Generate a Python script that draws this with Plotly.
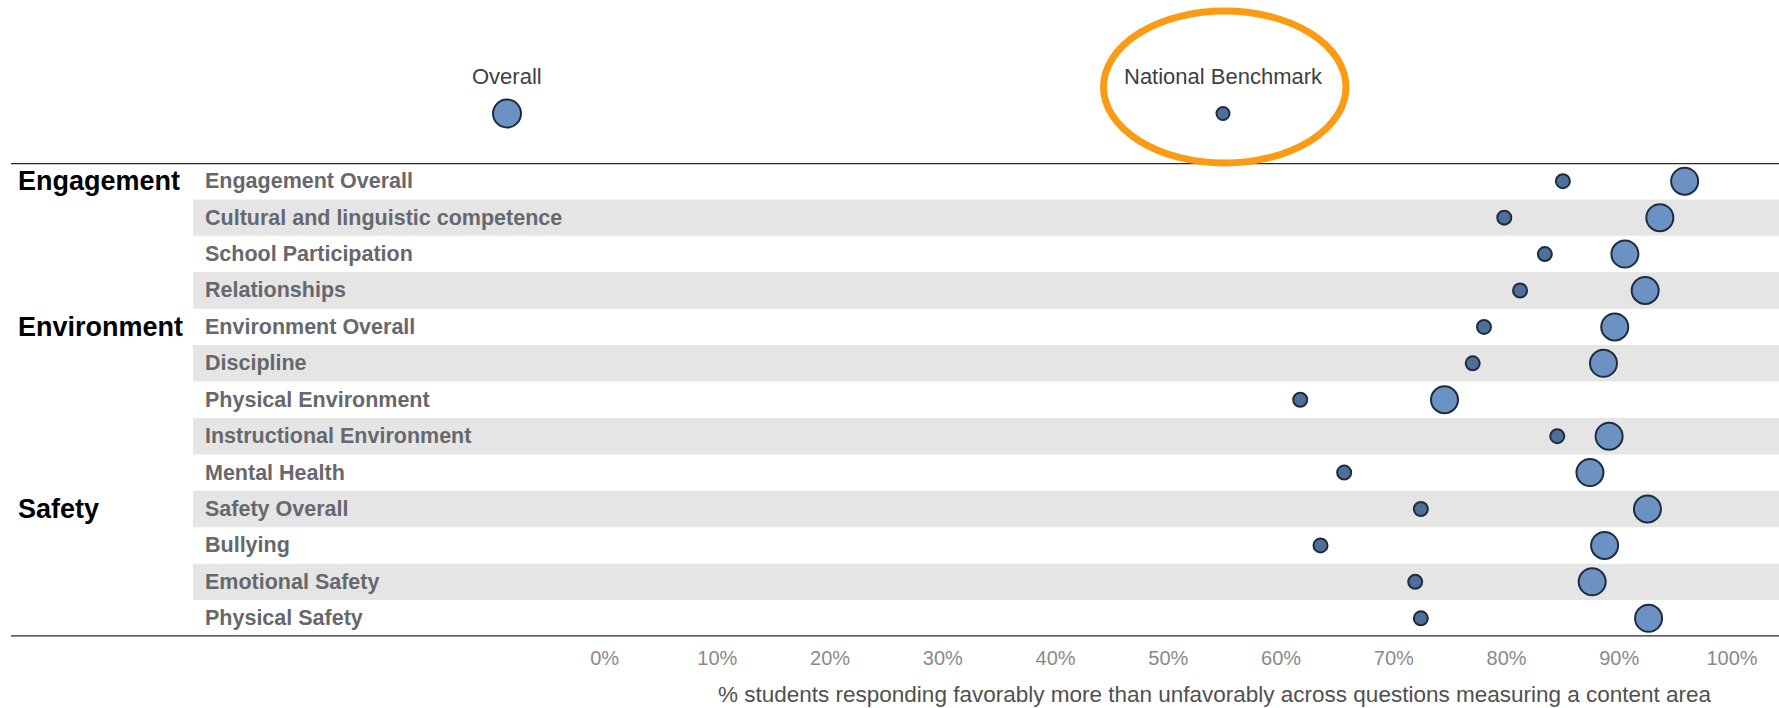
import plotly.graph_objects as go

# ---- data -------------------------------------------------------------
GROUPS = [
    "Engagement", "Engagement", "Engagement", "Engagement",
    "Environment", "Environment", "Environment", "Environment", "Environment",
    "Safety", "Safety", "Safety", "Safety",
]
AREAS = [
    "Engagement Overall",
    "Cultural and linguistic competence",
    "School Participation",
    "Relationships",
    "Environment Overall",
    "Discipline",
    "Physical Environment",
    "Instructional Environment",
    "Mental Health",
    "Safety Overall",
    "Bullying",
    "Emotional Safety",
    "Physical Safety",
]
# % favorable, school overall
OVERALL = [95.8, 93.6, 90.5, 92.3, 89.6, 88.6, 74.5, 89.1, 87.4, 92.5, 88.7, 87.6, 92.6]
# % favorable, national benchmark
BENCHMARK = [85.0, 79.8, 83.4, 81.2, 78.0, 77.0, 61.7, 84.5, 65.6, 72.4, 63.5, 71.9, 72.4]

TICK_VALUES = [0, 10, 20, 30, 40, 50, 60, 70, 80, 90, 100]
TICK_LABELS = [f"{v}%" for v in TICK_VALUES]
X_TITLE = ("% students responding favorably more than unfavorably "
           "across questions measuring a content area")
LEGEND_LABELS = ["Overall", "National Benchmark"]

# ---- page geometry (pixels) -------------------------------------------
W, H = 1779, 708
TABLE_TOP, TABLE_BOTTOM = 163.0, 636.5
X0_PX, X100_PX = 604.6, 1732.0          # where 0% and 100% fall
PER_PCT = (X100_PX - X0_PX) / 100.0

FONT = "Liberation Sans, Arial, Helvetica, sans-serif"
FILL_OVERALL = "#6b92c2"
FILL_BENCH = "#4e6f99"
EDGE = "#1f2c3e"
BAND = "#e5e5e5"
SIZE_OVERALL, SIZE_BENCH = 27, 14


def fx(x):
    return x / W


def fy(y):
    return 1 - y / H


n = len(AREAS)
rows = list(range(n))

fig = go.Figure()

fig.add_trace(go.Scatter(
    x=BENCHMARK, y=rows, mode="markers", name=LEGEND_LABELS[1],
    marker=dict(size=SIZE_BENCH, color=FILL_BENCH, opacity=1,
                line=dict(color=EDGE, width=2)),
    xaxis="x", yaxis="y", hoverinfo="x+text", text=AREAS,
))
fig.add_trace(go.Scatter(
    x=OVERALL, y=rows, mode="markers", name=LEGEND_LABELS[0],
    marker=dict(size=SIZE_OVERALL, color=FILL_OVERALL, opacity=1,
                line=dict(color=EDGE, width=2)),
    xaxis="x", yaxis="y", hoverinfo="x+text", text=AREAS,
))

# size/colour key above the table
KEY_X = [507, 1223]
KEY_Y = 113.5
fig.add_trace(go.Scatter(
    x=KEY_X, y=[KEY_Y, KEY_Y], mode="markers",
    marker=dict(size=[SIZE_OVERALL + 1, SIZE_BENCH - 1],
                color=[FILL_OVERALL, FILL_BENCH], opacity=1,
                line=dict(color=EDGE, width=2)),
    xaxis="x2", yaxis="y2", hoverinfo="skip",
))

shapes = []
# alternating row bands
for i in rows:
    if i % 2 == 1:
        shapes.append(dict(
            type="rect", xref="paper", yref="y",
            x0=fx(193), x1=1, y0=i - 0.5, y1=i + 0.5,
            fillcolor=BAND, line=dict(width=0), layer="below",
        ))
# table rules
for yy in (-0.5, n - 0.5):
    shapes.append(dict(
        type="line", xref="paper", yref="y",
        x0=fx(11), x1=1, y0=yy, y1=yy,
        line=dict(color="#2b2b2b", width=2.5),
    ))
# highlight ring around the benchmark key
shapes.append(dict(
    type="circle", xref="paper", yref="paper",
    x0=fx(1103.5), x1=fx(1346), y0=fy(163), y1=fy(11),
    line=dict(color="#fb9b14", width=7),
))

annotations = []
for i, (g, a) in enumerate(zip(GROUPS, AREAS)):
    annotations.append(dict(
        xref="paper", yref="y", x=fx(203), y=i, text=a,
        xanchor="left", yanchor="middle", showarrow=False,
        font=dict(family=FONT, size=21.5, color="#66686d", weight="bold"),
    ))
    if i == 0 or GROUPS[i - 1] != g:
        annotations.append(dict(
            xref="paper", yref="y", x=fx(16), y=i, text=g,
            xanchor="left", yanchor="middle", showarrow=False,
            font=dict(family=FONT, size=27, color="#000000", weight="bold"),
        ))
for lx, lab in zip(KEY_X, LEGEND_LABELS):
    annotations.append(dict(
        xref="paper", yref="paper", x=fx(lx), y=fy(76), text=lab,
        xanchor="center", yanchor="middle", showarrow=False,
        font=dict(family=FONT, size=22, color="#404040"),
    ))
annotations.append(dict(
    xref="paper", yref="paper", x=fx(1215), y=fy(694), text=X_TITLE,
    xanchor="center", yanchor="middle", showarrow=False,
    font=dict(family=FONT, size=22.5, color="#505050"),
))

fig.update_layout(
    width=W, height=H,
    margin=dict(l=0, r=0, t=0, b=0),
    paper_bgcolor="white", plot_bgcolor="rgba(0,0,0,0)",
    showlegend=False,
    shapes=shapes,
    annotations=annotations,
    xaxis=dict(
        domain=[0, 1], anchor="y",
        range=[-X0_PX / PER_PCT, (W - X0_PX) / PER_PCT],
        tickvals=TICK_VALUES, ticktext=TICK_LABELS,
        tickfont=dict(family=FONT, size=20, color="#8a8a8a"),
        showgrid=False, zeroline=False, showline=False, ticks="",
        ticklabelstandoff=7,
    ),
    yaxis=dict(
        domain=[fy(TABLE_BOTTOM), fy(TABLE_TOP)], anchor="x",
        range=[n - 0.5, -0.5],
        showgrid=False, zeroline=False, showline=False,
        showticklabels=False, ticks="",
    ),
    xaxis2=dict(domain=[0, 1], anchor="y2", range=[0, W], visible=False),
    yaxis2=dict(domain=[0, 1], anchor="x2", range=[H, 0], visible=False),
)

fig.write_html("out.html")
